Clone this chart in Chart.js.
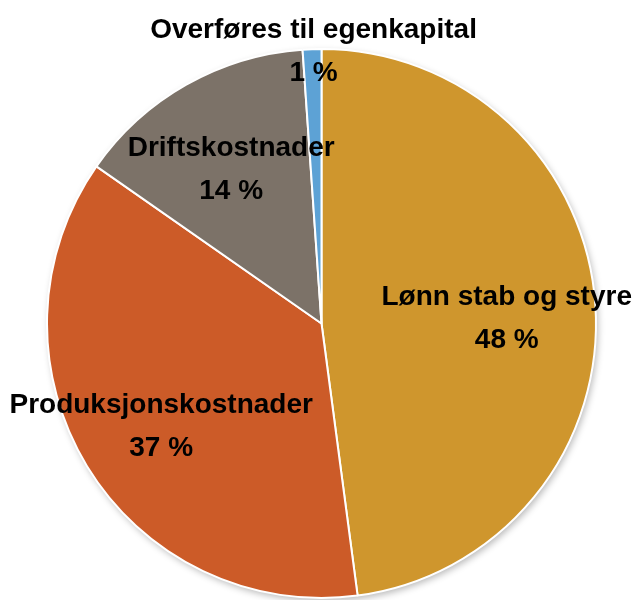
<!DOCTYPE html>
<html>
<head>
<meta charset="utf-8">
<script src="https://cdn.jsdelivr.net/npm/chart.js@4/dist/chart.umd.min.js"></script>
<style>
html,body{margin:0;padding:0;background:#fff;}
#wrap{width:633px;height:600px;position:relative;}
</style>
</head>
<body>
<div id="wrap"><canvas id="c" width="633" height="600"></canvas></div>
<script>
const categories = ["Lønn stab og styre", "Produksjonskostnader", "Driftskostnader", "Overføres til egenkapital"];
const values = [47.9, 36.8, 14.2, 1.1];
const percentLabels = ["48 %", "37 %", "14 %", "1 %"];
const colors = ["#CF962D", "#CC5B28", "#7C7268", "#5DA2D5"];

// label placement relative to slice geometry (fraction of radius, angular shift in degrees)
const labelPlacement = {
  radius: [0.675, 0.695, 0.65, 0.99],
  shiftDeg: [2.4, -1.5, -0.9, 0.3],
  lineGap: 43,
  font: "bold 28px 'Liberation Sans', Arial, sans-serif"
};

const shadowPlugin = {
  id: 'pieShadow',
  beforeDatasetsDraw(chart) {
    const arcs = chart.getDatasetMeta(0).data;
    if (!arcs.length) return;
    const a = arcs[0];
    const ctx = chart.ctx;
    ctx.save();
    ctx.shadowColor = 'rgba(0,0,0,0.28)';
    ctx.shadowBlur = 7;
    ctx.shadowOffsetX = 2;
    ctx.shadowOffsetY = 3;
    ctx.fillStyle = '#ffffff';
    ctx.beginPath();
    ctx.arc(a.x, a.y, a.outerRadius, 0, Math.PI * 2);
    ctx.fill();
    ctx.restore();
  }
};

const labelPlugin = {
  id: 'sliceLabels',
  afterDatasetsDraw(chart) {
    const ctx = chart.ctx;
    const arcs = chart.getDatasetMeta(0).data;
    ctx.save();
    ctx.font = labelPlacement.font;
    ctx.fillStyle = '#000';
    ctx.textAlign = 'center';
    ctx.textBaseline = 'middle';
    arcs.forEach((arc, i) => {
      const p = arc.getProps(['x', 'y', 'startAngle', 'endAngle', 'outerRadius'], true);
      const mid = (p.startAngle + p.endAngle) / 2 + labelPlacement.shiftDeg[i] * Math.PI / 180;
      const r = p.outerRadius * labelPlacement.radius[i];
      const cx = p.x + Math.cos(mid) * r;
      const cy = p.y + Math.sin(mid) * r;
      ctx.fillText(categories[i], cx, cy - labelPlacement.lineGap / 2);
      ctx.fillText(percentLabels[i], cx, cy + labelPlacement.lineGap / 2);
    });
    ctx.restore();
  }
};

new Chart(document.getElementById('c'), {
  type: 'pie',
  data: {
    labels: categories,
    datasets: [{
      data: values,
      backgroundColor: colors,
      borderColor: '#ffffff',
      borderWidth: 2
    }]
  },
  options: {
    responsive: false,
    animation: false,
    layout: { padding: { left: 46, right: 36, top: 48, bottom: 1 } },
    plugins: {
      legend: { display: false },
      tooltip: { enabled: false },
      title: { display: false }
    }
  },
  plugins: [shadowPlugin, labelPlugin]
});
</script>
</body>
</html>
